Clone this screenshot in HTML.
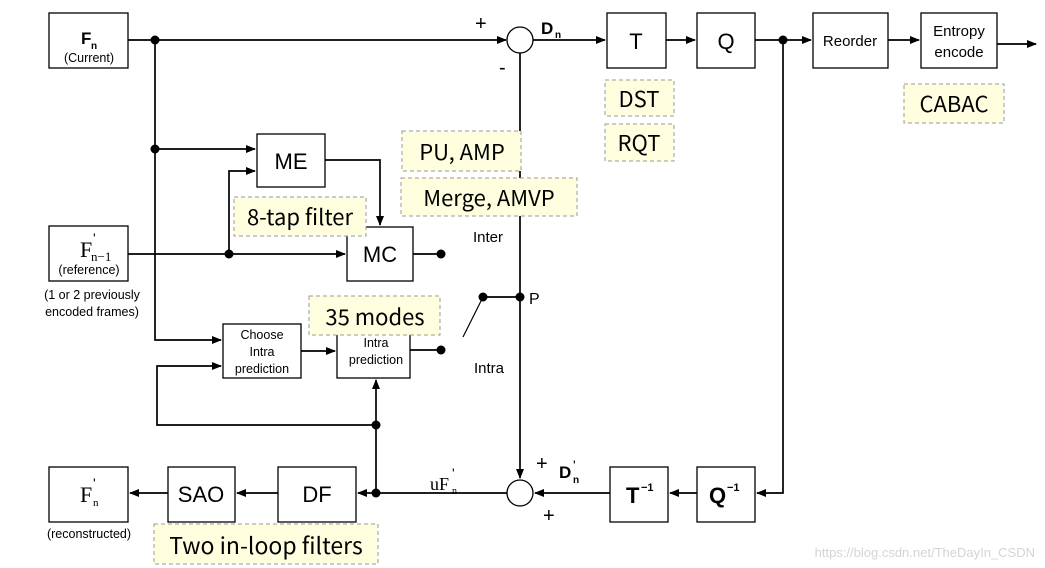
<!DOCTYPE html>
<html><head><style>
body{margin:0;background:#fff}
svg{display:block;font-family:"Liberation Sans",sans-serif}
.b{fill:#fff;stroke:#000;stroke-width:1.3}
.n{fill:#ffffe0;stroke:#999;stroke-width:1;stroke-dasharray:4 3}
.l{stroke:#000;stroke-width:1.7;fill:none}
.nt{font-family:"Noto Sans CJK KR","Liberation Sans",sans-serif}
</style></head><body>
<svg width="1045" height="568" viewBox="0 0 1045 568">
<defs><marker id="a" markerWidth="10" markerHeight="8" refX="9" refY="4" orient="auto" markerUnits="userSpaceOnUse"><path d="M0,0L10,4L0,8z"/></marker></defs>
<path class="l" d="M128,40H506" marker-end="url(#a)"/>
<path class="l" d="M155,40V340H221" marker-end="url(#a)"/>
<path class="l" d="M155,149H255" marker-end="url(#a)"/>
<path class="l" d="M128,254H345" marker-end="url(#a)"/>
<path class="l" d="M229,254V171H255" marker-end="url(#a)"/>
<path class="l" d="M325,160H380V225" marker-end="url(#a)"/>
<path class="l" d="M413,254H441"/>
<path class="l" d="M301,351H335" marker-end="url(#a)"/>
<path class="l" d="M410,350H441"/>
<path class="l" d="M483,297H520"/>
<path class="l" d="M483,297L463,337" style="stroke-width:1.2"/>
<path class="l" d="M520,53V478" marker-end="url(#a)"/>
<path class="l" d="M533,40H605" marker-end="url(#a)"/>
<path class="l" d="M666,40H695" marker-end="url(#a)"/>
<path class="l" d="M755,40H811" marker-end="url(#a)"/>
<path class="l" d="M888,40H919" marker-end="url(#a)"/>
<path class="l" d="M997,44H1036" marker-end="url(#a)"/>
<path class="l" d="M783,40V493H757" marker-end="url(#a)"/>
<path class="l" d="M697,493H670" marker-end="url(#a)"/>
<path class="l" d="M610,493H535" marker-end="url(#a)"/>
<path class="l" d="M507,493H358" marker-end="url(#a)"/>
<path class="l" d="M376,493V380" marker-end="url(#a)"/>
<path class="l" d="M376,425H157V366H221" marker-end="url(#a)"/>
<path class="l" d="M278,493H237" marker-end="url(#a)"/>
<path class="l" d="M168,493H130" marker-end="url(#a)"/>
<g fill="#000"><circle cx="155" cy="40" r="4.5"/><circle cx="155" cy="149" r="4.5"/><circle cx="229" cy="254" r="4.5"/><circle cx="441" cy="254" r="4.5"/><circle cx="441" cy="350" r="4.5"/><circle cx="483" cy="297" r="4.5"/><circle cx="520" cy="297" r="4.5"/><circle cx="783" cy="40" r="4.5"/><circle cx="376" cy="493" r="4.5"/><circle cx="376" cy="425" r="4.5"/></g>
<circle cx="520" cy="40" r="13" class="b"/><circle cx="520" cy="493" r="13" class="b"/>
<rect class="b" x="49" y="13" width="79" height="55"/>
<rect class="b" x="49" y="226" width="79" height="55"/>
<rect class="b" x="257" y="134" width="68" height="53"/>
<rect class="b" x="347" y="227" width="66" height="54"/>
<rect class="b" x="223" y="324" width="78" height="54"/>
<rect class="b" x="337" y="324" width="73" height="54"/>
<rect class="b" x="607" y="13" width="59" height="55"/>
<rect class="b" x="697" y="13" width="58" height="55"/>
<rect class="b" x="813" y="13" width="75" height="55"/>
<rect class="b" x="921" y="13" width="76" height="55"/>
<rect class="b" x="49" y="467" width="79" height="55"/>
<rect class="b" x="168" y="467" width="67" height="55"/>
<rect class="b" x="278" y="467" width="78" height="55"/>
<rect class="b" x="610" y="467" width="58" height="55"/>
<rect class="b" x="697" y="467" width="58" height="55"/>
<rect class="n" x="605" y="80" width="69" height="36"/><rect class="n" x="605" y="124" width="69" height="37"/>
<rect class="n" x="904" y="84" width="100" height="39"/>
<rect class="n" x="402" y="131" width="119" height="40"/><rect class="n" x="401" y="178" width="176" height="38"/>
<rect class="n" x="234" y="197" width="132" height="39"/>
<rect class="n" x="309" y="296" width="131" height="39"/>
<rect class="n" x="154" y="524" width="224" height="40"/>
<g font-size="22" text-anchor="middle">
<text x="291" y="169">ME</text><text x="380" y="262">MC</text>
<text x="636" y="49">T</text><text x="726" y="49">Q</text>
<text x="201" y="502">SAO</text><text x="317" y="502">DF</text>
</g>
<g font-size="22" text-anchor="middle" class="nt">
<text x="639" y="107">DST</text><text x="639" y="151">RQT</text>
<text x="954" y="112">CABAC</text>
<text x="462" y="160">PU, AMP</text><text x="489" y="206">Merge, AMVP</text>
<text x="300" y="225">8-tap filter</text><text x="375" y="325">35 modes</text>
<text x="266" y="554" font-size="23">Two in-loop filters</text>
</g>
<g font-size="15" text-anchor="middle">
<text x="850" y="46">Reorder</text><text x="959" y="36">Entropy</text><text x="959" y="57">encode</text>
<text x="488" y="242">Inter</text><text x="489" y="373">Intra</text>
</g>
<g font-size="12.5" text-anchor="middle">
<text x="262" y="339">Choose</text><text x="262" y="356">Intra</text><text x="262" y="373">prediction</text>
<text x="376" y="347">Intra</text><text x="376" y="364">prediction</text>
<text x="89" y="62">(Current)</text><text x="89" y="274">(reference)</text>
<text x="92" y="299">(1 or 2 previously</text><text x="92" y="316">encoded frames)</text>
<text x="89" y="538">(reconstructed)</text>
</g>
<text x="81" y="44" font-size="17" font-weight="bold">F</text><text x="91" y="49" font-size="10" font-weight="bold">n</text>
<text x="80" y="257" font-size="22" font-family="Liberation Serif">F</text><text x="93" y="243" font-size="14">'</text><text x="91" y="261" font-size="13" font-family="Liberation Serif">n−1</text>
<text x="80" y="502" font-size="22" font-family="Liberation Serif">F</text><text x="93" y="488" font-size="14">'</text><text x="93" y="506" font-size="11" font-family="Liberation Serif">n</text>
<text x="541" y="34" font-size="17" font-weight="bold">D</text><text x="555" y="38" font-size="10" font-weight="bold">n</text>
<text x="559" y="478" font-size="17" font-weight="bold">D</text><text x="573" y="470" font-size="14">'</text><text x="573" y="483" font-size="10" font-weight="bold">n</text>
<text x="430" y="490" font-size="18" font-family="Liberation Serif">uF</text><text x="452" y="478" font-size="14">'</text><text x="452" y="494" font-size="10" font-family="Liberation Serif">n</text>
<text x="626" y="503" font-size="22" font-weight="bold">T</text><text x="641" y="491" font-size="11" font-weight="bold">−1</text>
<text x="709" y="503" font-size="22" font-weight="bold">Q</text><text x="727" y="491" font-size="11" font-weight="bold">−1</text>
<text x="529" y="304" font-size="16">P</text>
<g font-size="20"><text x="475" y="30">+</text><text x="536" y="470">+</text><text x="543" y="522">+</text><text x="499" y="74">-</text></g>
<text x="1035" y="557" font-size="13" fill="#d4d4d4" text-anchor="end">https://blog.csdn.net/TheDayIn_CSDN</text>
</svg>
</body></html>
